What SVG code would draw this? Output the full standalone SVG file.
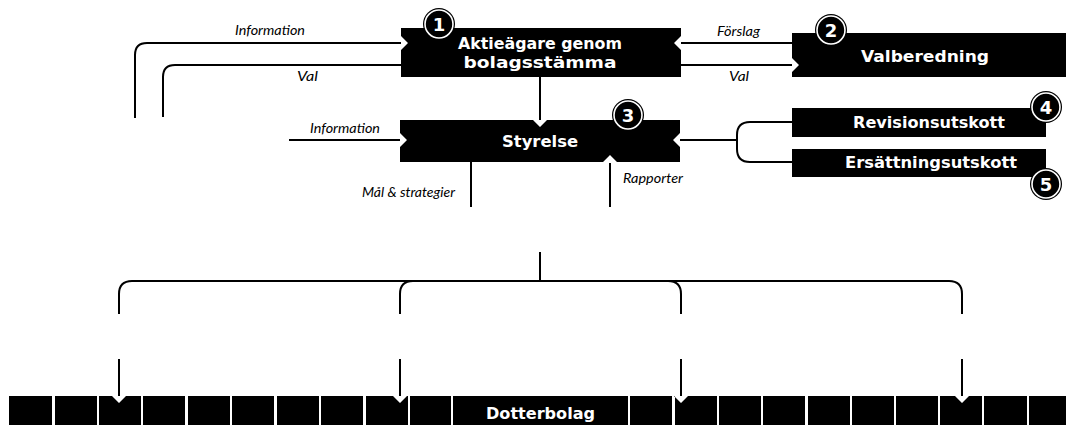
<svg xmlns="http://www.w3.org/2000/svg" width="1066" height="425" viewBox="0 0 1066 425">
<style>
.box{fill:#000}
.ln{fill:none;stroke:#000;stroke-width:2}
.t{font-family:"DejaVu Sans","Liberation Sans",sans-serif;font-weight:bold;font-size:16px;fill:#fff;text-anchor:middle}
.lab{font-family:Lato,"Liberation Sans",sans-serif;font-style:italic;font-size:12.5px;fill:#000}
.badge{fill:#000}
.ring{fill:none;stroke:#fff;stroke-width:1.6}
.num{font-family:"DejaVu Sans","Liberation Sans",sans-serif;font-weight:bold;font-size:18px;fill:#fff;text-anchor:middle}
</style>
<defs>
<g id="badgeShape"><circle class="badge" r="16"/><circle class="ring" r="14"/></g>
</defs>

<g id="connectors">
<path class="ln" d="M135,118 V55 Q135,43 147,43 H401"/>
<path class="ln" d="M163,117 V77 Q163,65 175,65 H401"/>
<path class="ln" d="M792,43 H681"/>
<path class="ln" d="M681,65 H792"/>
<path class="ln" d="M540,77 V120"/>
<path class="ln" d="M289,140 H400"/>
<path class="ln" d="M680,140 H737"/>
<path class="ln" d="M792,122 H750 Q737,122 737,135 V149 Q737,162 750,162 H792"/>
<path class="ln" d="M471,162 V207"/>
<path class="ln" d="M610,163 V207"/>
<path class="ln" d="M540,252 V281"/>
<path class="ln" d="M540,281 H132 Q119,281 119,294 V314"/>
<path class="ln" d="M540,281 H413 Q400,281 400,294 V314"/>
<path class="ln" d="M540,281 H668 Q681,281 681,294 V314"/>
<path class="ln" d="M540,281 H949 Q962,281 962,294 V314"/>
<path class="ln" d="M119,359 V396"/>
<path class="ln" d="M400,359 V396"/>
<path class="ln" d="M681,359 V396"/>
<path class="ln" d="M962,359 V396"/>
<text class="lab" x="235" y="35" textLength="70" lengthAdjust="spacingAndGlyphs">Information</text>
<text class="lab" x="297" y="81" textLength="21" lengthAdjust="spacingAndGlyphs">Val</text>
<text class="lab" x="717" y="36" textLength="43" lengthAdjust="spacingAndGlyphs">Förslag</text>
<text class="lab" x="729" y="81" textLength="20" lengthAdjust="spacingAndGlyphs">Val</text>
<text class="lab" x="310" y="133" textLength="70" lengthAdjust="spacingAndGlyphs">Information</text>
<text class="lab" x="362" y="197" textLength="93" lengthAdjust="spacingAndGlyphs">Mål &amp; strategier</text>
<text class="lab" x="623" y="183" textLength="60" lengthAdjust="spacingAndGlyphs">Rapporter</text>
</g>

<g id="aktieagare">
<polygon class="box" points="401,28 681,28 681,36 674,43 681,50 681,77 401,77 401,50 408,43 401,36"/>
<text class="t" x="540" y="49" textLength="164" lengthAdjust="spacingAndGlyphs">Aktieägare genom</text>
<text class="t" x="540" y="68" textLength="153" lengthAdjust="spacingAndGlyphs">bolagsstämma</text>
<use href="#badgeShape" x="439" y="24"/>
<text class="num" x="439" y="30.5">1</text>
</g>

<g id="valberedning">
<polygon class="box" points="792,33 1066,33 1066,77 792,77 792,72 799,65 792,58"/>
<text class="t" x="925" y="62" textLength="128" lengthAdjust="spacingAndGlyphs">Valberedning</text>
<use href="#badgeShape" x="831" y="30"/>
<text class="num" x="831" y="36.5">2</text>
</g>

<g id="styrelse">
<polygon class="box" points="400,120 533,120 540,127 547,120 680,120 680,133 673,140 680,147 680,162 617,162 610,155 603,162 400,162 400,147 407,140 400,133"/>
<text class="t" x="540" y="147" textLength="76" lengthAdjust="spacingAndGlyphs">Styrelse</text>
<use href="#badgeShape" x="628" y="115"/>
<text class="num" x="628" y="121.5">3</text>
</g>

<g id="revisionsutskott">
<rect class="box" x="792" y="108" width="254" height="29"/>
<text class="t" x="929" y="128" textLength="152" lengthAdjust="spacingAndGlyphs">Revisionsutskott</text>
<use href="#badgeShape" x="1046" y="107"/>
<text class="num" x="1046" y="113.5">4</text>
</g>

<g id="ersattningsutskott">
<rect class="box" x="792" y="149" width="254" height="28"/>
<text class="t" x="931" y="168" textLength="172" lengthAdjust="spacingAndGlyphs">Ersättningsutskott</text>
<use href="#badgeShape" x="1046" y="184"/>
<text class="num" x="1046" y="190.5">5</text>
</g>

<g id="dotterbolag">
<rect class="box" x="9" y="396" width="43" height="29"/>
<rect class="box" x="55" y="396" width="42" height="29"/>
<polygon class="box" points="99,396 112,396 119,403 126,396 141,396 141,425 99,425"/>
<rect class="box" x="143" y="396" width="42" height="29"/>
<rect class="box" x="188" y="396" width="42" height="29"/>
<rect class="box" x="232" y="396" width="42" height="29"/>
<rect class="box" x="277" y="396" width="42" height="29"/>
<rect class="box" x="321" y="396" width="42" height="29"/>
<polygon class="box" points="366,396 393,396 400,403 407,396 408,396 408,425 366,425"/>
<rect class="box" x="410" y="396" width="41" height="29"/>
<rect class="box" x="453" y="396" width="175" height="29"/>
<rect class="box" x="630" y="396" width="42" height="29"/>
<polygon class="box" points="675,396 674,396 681,403 688,396 717,396 717,425 675,425"/>
<rect class="box" x="719" y="396" width="42" height="29"/>
<rect class="box" x="763" y="396" width="42" height="29"/>
<rect class="box" x="808" y="396" width="42" height="29"/>
<rect class="box" x="852" y="396" width="42" height="29"/>
<rect class="box" x="896" y="396" width="42" height="29"/>
<polygon class="box" points="940,396 955,396 962,403 969,396 982,396 982,425 940,425"/>
<rect class="box" x="984" y="396" width="43" height="29"/>
<rect class="box" x="1029" y="396" width="42" height="29"/>
<text class="t" x="540.5" y="419" textLength="109" lengthAdjust="spacingAndGlyphs">Dotterbolag</text>
</g>
</svg>
